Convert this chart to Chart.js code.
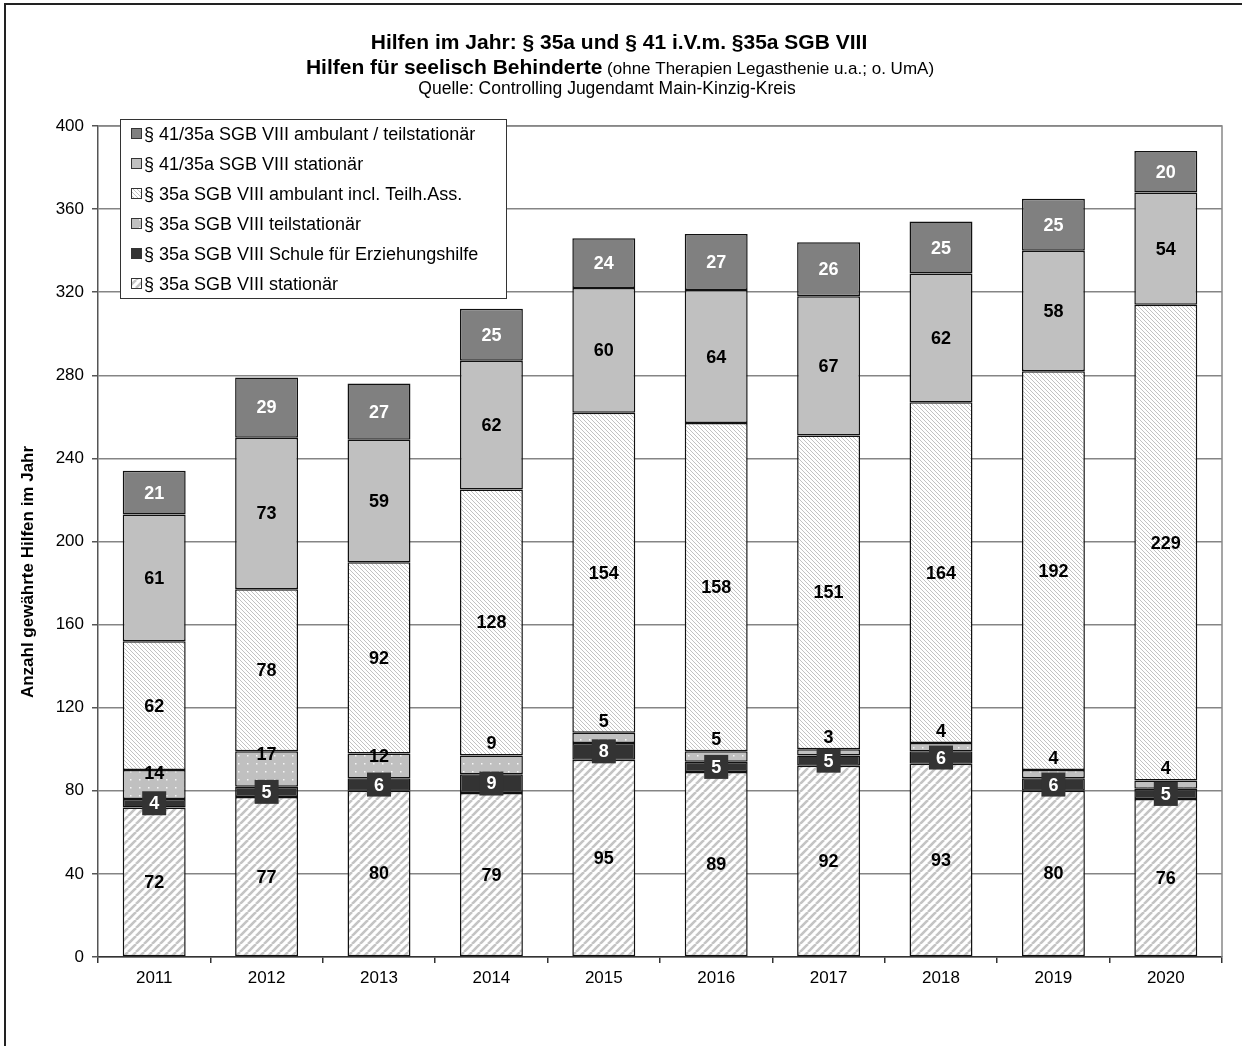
<!DOCTYPE html>
<html lang="de">
<head>
<meta charset="utf-8">
<title>Hilfen im Jahr: § 35a und § 41 i.V.m. §35a SGB VIII</title>
<script src="https://cdn.jsdelivr.net/npm/chart.js@4/dist/chart.umd.min.js"></script>
<style>
  html, body { margin: 0; padding: 0; background: #fff; overflow: hidden; }
  #wrap { position: relative; width: 1242px; height: 1046px; }
</style>
</head>
<body>
<div id="wrap"><canvas id="hilfenChart" width="1242" height="1046"></canvas></div>
<script>
// Jahre und Fallzahlen je Hilfeart
const years = ['2011', '2012', '2013', '2014', '2015', '2016', '2017', '2018', '2019', '2020'];
const stationaer35a = [72, 77, 80, 79, 95, 89, 92, 93, 80, 76];
const schule35a = [4, 5, 6, 9, 8, 5, 5, 6, 6, 5];
const teilstationaer35a = [14, 17, 12, 9, 5, 5, 3, 4, 4, 4];
const ambulant35a = [62, 78, 92, 128, 154, 158, 151, 164, 192, 229];
const stationaer41 = [61, 73, 59, 62, 60, 64, 67, 62, 58, 54];
const ambulant41 = [21, 29, 27, 25, 24, 27, 26, 25, 25, 20];
const yMin = 0, yMax = 400, yStep = 40;

const seriesLabels = [
    '§ 35a SGB VIII stationär',
    '§ 35a SGB VIII Schule für Erziehungshilfe',
    '§ 35a SGB VIII teilstationär',
    '§ 35a SGB VIII ambulant incl. Teilh.Ass.',
    '§ 41/35a SGB VIII stationär',
    '§ 41/35a SGB VIII ambulant / teilstationär'
];

const FONT = '"Liberation Sans", Arial, sans-serif';

const canvas = document.getElementById('hilfenChart');
const ctx = canvas.getContext('2d');

function makePattern(w, h, draw) {
    const c = document.createElement('canvas');
    c.width = w;
    c.height = h;
    const g = c.getContext('2d');
    draw(g, w, h);
    return ctx.createPattern(c, 'repeat');
}

// breite Schraffur "/"
const patStationaer = makePattern(8, 8, function (g, s) {
    g.fillStyle = '#fff';
    g.fillRect(0, 0, s, s);
    g.strokeStyle = '#c4c4c4';
    g.lineWidth = 2.6;
    [-s, 0, s].forEach(function (o) {
        g.beginPath();
        g.moveTo(o, s);
        g.lineTo(o + s, 0);
        g.stroke();
    });
});

// feine Schraffur "\"
const patAmbulant = makePattern(4, 4, function (g, s) {
    g.fillStyle = '#fff';
    g.fillRect(0, 0, s, s);
    g.strokeStyle = '#c2c2c2';
    g.lineWidth = 1;
    [-s, 0, s].forEach(function (o) {
        g.beginPath();
        g.moveTo(o, 0);
        g.lineTo(o + s, s);
        g.stroke();
    });
});

// grau mit weißen Punkten
const patTeilstationaer = makePattern(9, 8, function (g, w, h) {
    g.fillStyle = '#c0c0c0';
    g.fillRect(0, 0, w, h);
    g.fillStyle = '#f4f4f4';
    g.fillRect(4, 3, 1.5, 1.5);
});

const fills = [patStationaer, '#333333', patTeilstationaer, patAmbulant, '#c0c0c0', '#808080'];
const seriesData = [stationaer35a, schule35a, teilstationaer35a, ambulant35a, stationaer41, ambulant41];

const frameAndTitle = {
    id: 'frameAndTitle',
    beforeDraw(chart) {
        const c = chart.ctx;
        c.save();
        c.fillStyle = '#fff';
        c.fillRect(0, 0, chart.width, chart.height);
        c.strokeStyle = '#222';
        c.lineWidth = 2;
        c.beginPath();
        c.moveTo(5, chart.height);
        c.lineTo(5, 4);
        c.lineTo(chart.width, 4);
        c.stroke();

        c.fillStyle = '#000';
        c.textBaseline = 'middle';
        c.textAlign = 'center';
        c.font = 'bold 21px ' + FONT;
        c.fillText('Hilfen im Jahr: § 35a und § 41 i.V.m. §35a SGB VIII', 619, 43);

        const boldPart = 'Hilfen für seelisch Behinderte';
        const normalPart = ' (ohne Therapien Legasthenie u.a.; o. UmA)';
        c.font = 'bold 21px ' + FONT;
        const wb = c.measureText(boldPart).width;
        c.font = '17px ' + FONT;
        const wn = c.measureText(normalPart).width;
        const x0 = 620 - (wb + wn) / 2;
        c.textAlign = 'left';
        c.font = 'bold 21px ' + FONT;
        c.fillText(boldPart, x0, 68);
        c.font = '17px ' + FONT;
        c.fillText(normalPart, x0 + wb, 69);

        c.textAlign = 'center';
        c.font = '17.5px ' + FONT;
        c.fillText('Quelle: Controlling Jugendamt Main-Kinzig-Kreis', 607, 89);

        c.translate(28, 572);
        c.rotate(-Math.PI / 2);
        c.font = 'bold 17px ' + FONT;
        c.fillText('Anzahl gewährte Hilfen im Jahr', 0, 0);
        c.restore();
    },
    afterDraw(chart) {
        // Legende im Diagrammbereich, oberste Reihe zuerst
        const c = chart.ctx;
        c.save();
        c.fillStyle = '#fff';
        c.fillRect(120.5, 119.5, 386, 179);
        c.strokeStyle = '#333';
        c.lineWidth = 1;
        c.strokeRect(120.5, 119.5, 386, 179);
        c.font = '18px ' + FONT;
        c.textBaseline = 'middle';
        c.textAlign = 'left';
        for (let k = 0; k < 6; k++) {
            const ds = 5 - k;
            const y = 134 + k * 30;
            c.fillStyle = fills[ds];
            c.fillRect(131.5, y - 5.5, 10, 10);
            c.strokeStyle = '#333';
            c.strokeRect(131.5, y - 5.5, 10, 10);
            c.fillStyle = '#000';
            c.fillText(seriesLabels[ds], 144, y + 1);
        }
        c.restore();
    }
};

const valueLabels = {
    id: 'valueLabels',
    afterDatasetsDraw(chart) {
        const c = chart.ctx;
        c.save();
        c.font = 'bold 18px ' + FONT;
        c.textAlign = 'center';
        c.textBaseline = 'middle';
        chart.data.datasets.forEach(function (dataset, di) {
            const meta = chart.getDatasetMeta(di);
            meta.data.forEach(function (bar, i) {
                const v = dataset.data[i];
                const top = bar.y;
                const mid = (bar.y + bar.base) / 2;
                const txt = String(v);
                if (di === 1) {
                    c.fillStyle = '#333';
                    c.fillRect(bar.x - 12, mid - 12, 24, 24);
                    c.fillStyle = '#fff';
                    c.fillText(txt, bar.x, mid + 1);
                } else if (di === 2) {
                    c.fillStyle = '#000';
                    c.fillText(txt, bar.x, v >= 10 ? top + 4 : top - 11);
                } else {
                    c.fillStyle = di === 5 ? '#fff' : '#000';
                    c.fillText(txt, bar.x, mid + 1);
                }
            });
        });
        c.restore();
    }
};

new Chart(ctx, {
    type: 'bar',
    data: {
        labels: years,
        datasets: seriesData.map(function (values, i) {
            return {
                label: seriesLabels[i],
                data: values,
                backgroundColor: fills[i],
                borderColor: '#111',
                borderWidth: 1.5,
                borderSkipped: false,
                categoryPercentage: 1,
                barPercentage: 0.56
            };
        })
    },
    options: {
        responsive: false,
        animation: false,
        events: [],
        layout: { padding: { top: 126, right: 20, bottom: 0, left: 0 } },
        plugins: {
            legend: { display: false },
            title: { display: false },
            tooltip: { enabled: false }
        },
        scales: {
            x: {
                stacked: true,
                grid: {
                    offset: true,
                    drawOnChartArea: false,
                    drawTicks: true,
                    tickLength: 6,
                    color: '#333',
                    lineWidth: 1.5
                },
                border: { color: '#333', width: 1.5 },
                ticks: {
                    color: '#000',
                    padding: 5,
                    maxRotation: 0,
                    font: { family: FONT, size: 17 }
                },
                afterFit(scale) {
                    scale.height = 89;
                    scale.paddingLeft = 0;
                    scale.paddingRight = 0;
                }
            },
            y: {
                stacked: true,
                min: yMin,
                max: yMax,
                ticks: {
                    stepSize: yStep,
                    color: '#000',
                    padding: 8,
                    font: { family: FONT, size: 17 }
                },
                grid: {
                    color: '#858585',
                    lineWidth: 1.5,
                    tickLength: 6,
                    tickColor: '#555'
                },
                border: { color: '#555', width: 1.5 },
                afterFit(scale) {
                    scale.width = 98;
                    scale.paddingTop = 0;
                    scale.paddingBottom = 0;
                }
            }
        }
    },
    plugins: [frameAndTitle, valueLabels, {
        id: 'plotFrame',
        beforeDatasetsDraw(chart) {
            // graue Rahmenlinien oben und rechts am Zeichenbereich
            const a = chart.chartArea;
            const c = chart.ctx;
            c.save();
            c.strokeStyle = '#888';
            c.lineWidth = 1.5;
            c.beginPath();
            c.moveTo(a.left, a.top);
            c.lineTo(a.right, a.top);
            c.lineTo(a.right, a.bottom);
            c.stroke();
            c.restore();
        }
    }]
});
</script>
</body>
</html>
